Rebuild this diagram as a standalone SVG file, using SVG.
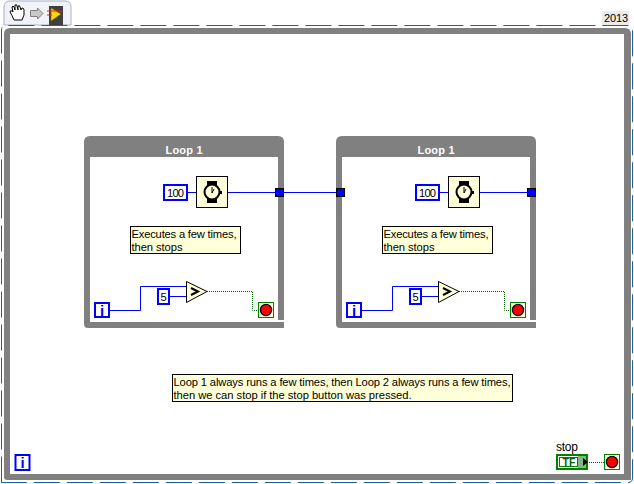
<svg xmlns="http://www.w3.org/2000/svg" width="634" height="484" viewBox="0 0 634 484">
<style>
text{font-family:"Liberation Sans",Arial,sans-serif;font-size:11.2px;fill:#000}
.band{fill:#808080}
.note{fill:#ffffd9;stroke:#000;stroke-width:1}
.blue{fill:none;stroke:#0000ff;stroke-width:1}
.const{fill:#fff;stroke:#0000ff;stroke-width:2}
.green{fill:none;stroke:#006400;stroke-width:1;stroke-dasharray:1 1}
.iter{fill:#fff;stroke:#0000ff;stroke-width:2}
.itxt{font-size:15px;font-weight:bold;fill:#0000ff;text-anchor:middle}
.tun{fill:#0000ff;stroke:#000;stroke-width:1}
</style>
<defs>
<g id="stopT">
<rect x="0.5" y="0.5" width="15" height="15" fill="#ffffd9" stroke="#008000"/>
<circle cx="8" cy="8" r="5.6" fill="#ff0000" stroke="#000" stroke-width="1.3"/>
</g>
<g id="timer">
<rect x="0.5" y="0.5" width="31" height="31" fill="#ffffd9" stroke="#000"/>
<rect x="11" y="5" width="10" height="22" fill="#000"/>
<circle cx="16" cy="16" r="7.5" fill="#ffffd9" stroke="#000" stroke-width="2"/>
<path d="M16 11V17M16 17L18 13" fill="none" stroke="#000"/>
<rect x="24" y="15" width="2" height="3" fill="#000"/>
</g>
<g id="loop">
<path d="M0 190V6Q0 0 6 0H194Q200 0 200 6V184H194V21H6V186H200V192H4Q0 192 0 188Z" class="band"/>
<text x="100" y="18" text-anchor="middle" textLength="37" style="font-weight:bold;fill:#fff;font-size:11px">Loop 1</text>
</g>
</defs>

<g id="toolbar">
<path d="M4 25V7Q4 1 10 1H65Q71 1 71 7V25Z" fill="#f0f2f8" stroke="#a8b0c8"/>
<path d="M14 20Q12 15 10 12Q10 10 12 11L13 12L12 7Q13 5 14 7L15 10V5Q17 4 17 6L18 10V6Q20 5 20 7L21 10L22 8Q24 8 24 10V15L22 20Z" fill="#fff" stroke="#000"/>
<path d="M30.500 10.500H37.500V8L43 13.500L37.500 19V16.500H30.500Z" fill="#c8c8c8" stroke="#808080"/>
<rect x="49" y="6" width="14" height="19" fill="#404040"/>
<path d="M51 8V21L61 14Z" fill="#ffd800" stroke="#806000" stroke-width="0.5"/>
<path d="M47 11H62M47 15H52" fill="none" stroke="#e02020"/>
</g>
<g id="version">
<rect x="602" y="11" width="27" height="14" fill="#ebebeb"/>
<text x="604" y="22" textLength="24" style="font-size:11px">2013</text>
</g>

<g id="outer-loop">
<path d="M1.500 482.500V30Q1.500 25.500 6 25.500H628Q632.500 25.500 632.500 30V478Q632.500 482.500 628 482.500Z" fill="none" stroke="#14649f" stroke-width="1" stroke-dasharray="26 7"/>
<path d="M4 477V34Q4 28 10 28H625Q631 28 631 34V474H624V34H10V474H631V480H7Q4 480 4 477Z" class="band"/>
<rect x="15.500" y="455" width="14" height="15" class="iter"/>
<text x="22.500" y="468" class="itxt">i</text>
</g>

<g id="connectors">
<path d="M188 192.500H196M228 192.500H340" class="blue"/>
<path d="M440 192.500H448M480 192.500H531" class="blue"/>
<path d="M110 310.500H140.500V286.500H186M170 296.500H186" class="blue"/>
<path d="M362 310.500H392.500V286.500H438M422 296.500H438" class="blue"/>
<path d="M207 291.500H252.500V310.500H258" class="green"/>
<path d="M459 291.500H504.500V310.500H510" class="green"/>
<path d="M589 462.500H604" class="green"/>
</g>

<g id="loop-1" transform="translate(84,136)"><use href="#loop"/></g>
<g id="loop-2" transform="translate(336,136)"><use href="#loop"/></g>

<g id="tunnels">
<rect x="275.500" y="188.500" width="8" height="8" class="tun"/>
<rect x="336.500" y="188.500" width="8" height="8" class="tun"/>
<rect x="527.500" y="188.500" width="8" height="8" class="tun"/>
</g>

<g id="const-100-a"><rect x="164" y="185" width="23" height="15" class="const"/><text x="167" y="197" textLength="17">100</text></g>
<g id="timer-a"><use href="#timer" x="196" y="176"/></g>
<g id="note-a"><rect x="130.500" y="226.500" width="110" height="27" class="note"/><text x="131.500" y="238" textLength="105">Executes a few times,</text><text x="131.500" y="251" textLength="51">then stops</text></g>
<g id="iter-a"><rect x="95" y="303" width="14" height="14" class="iter"/><text x="102" y="315.500" class="itxt">i</text></g>
<g id="const-5-a"><rect x="158" y="289" width="11" height="15" class="const"/><text x="163.500" y="301" text-anchor="middle">5</text></g>
<g id="gt-a"><path d="M186.500 281.500V302.500L207 291.500Z" fill="#ffffd9" stroke="#000"/><path d="M191 288L198 291.500L191 295" fill="none" stroke="#000" stroke-width="2"/></g>
<g id="stop-a"><use href="#stopT" x="258" y="302"/></g>

<g id="const-100-b"><rect x="416" y="185" width="23" height="15" class="const"/><text x="419" y="197" textLength="17">100</text></g>
<g id="timer-b"><use href="#timer" x="448" y="176"/></g>
<g id="note-b"><rect x="382.500" y="226.500" width="110" height="27" class="note"/><text x="383.500" y="238" textLength="105">Executes a few times,</text><text x="383.500" y="251" textLength="51">then stops</text></g>
<g id="iter-b"><rect x="347" y="303" width="14" height="14" class="iter"/><text x="354" y="315.500" class="itxt">i</text></g>
<g id="const-5-b"><rect x="410" y="289" width="11" height="15" class="const"/><text x="415.500" y="301" text-anchor="middle">5</text></g>
<g id="gt-b"><path d="M438.500 281.500V302.500L459 291.500Z" fill="#ffffd9" stroke="#000"/><path d="M443 288L450 291.500L443 295" fill="none" stroke="#000" stroke-width="2"/></g>
<g id="stop-b"><use href="#stopT" x="510" y="302"/></g>

<g id="note-main"><rect x="172.500" y="374.500" width="340" height="27" class="note"/><text x="173.500" y="386" textLength="337">Loop 1 always runs a few times, then Loop 2 always runs a few times,</text><text x="173.500" y="399" textLength="238">then we can stop if the stop button was pressed.</text></g>

<g id="stop-control">
<text x="556" y="450.500" textLength="22" style="font-size:12px">stop</text>
<rect x="557" y="455" width="30" height="14" fill="#fff" stroke="#008000" stroke-width="2"/>
<rect x="578" y="456" width="8" height="12" fill="#80b880"/>
<rect x="559.500" y="457.500" width="18" height="9" fill="none" stroke="#008000"/>
<text x="562.500" y="466" textLength="13" style="font-size:10.500px;font-weight:bold;fill:#006400">TF</text>
<path d="M583 458L588 462L583 466Z" fill="#000"/>
</g>
<g id="stop-main"><use href="#stopT" x="604" y="454"/></g>
</svg>
